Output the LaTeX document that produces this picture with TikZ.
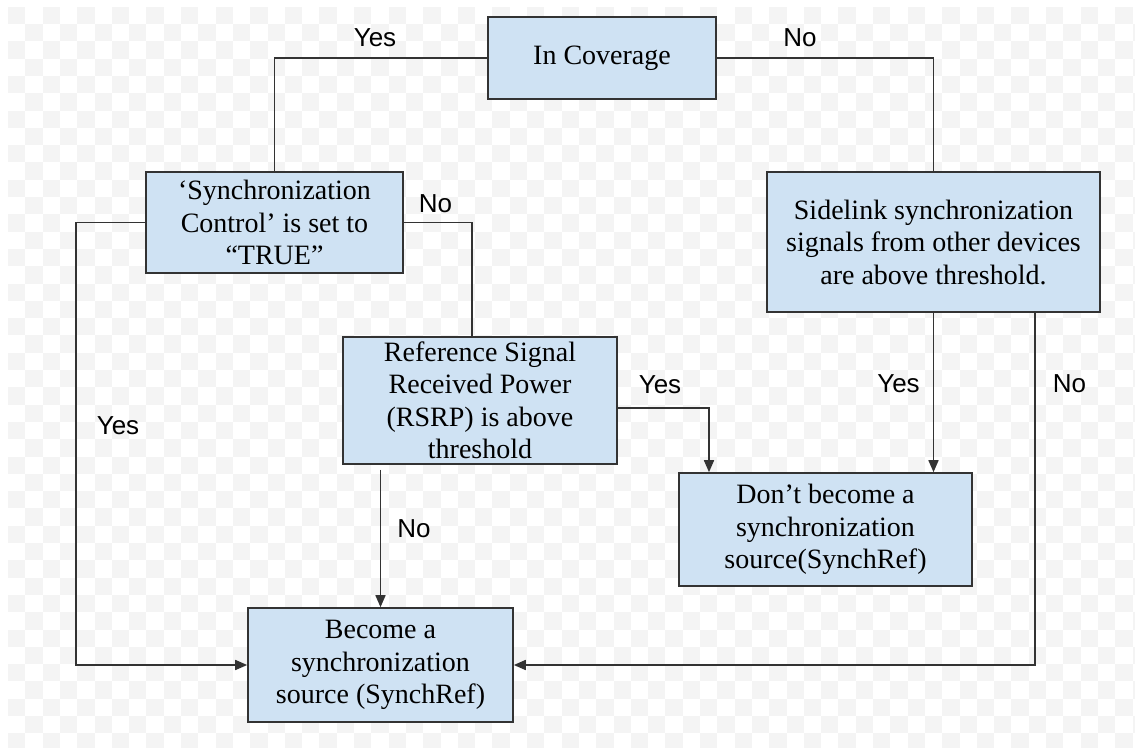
\documentclass[tikz,border=0pt]{standalone}
\usepackage{fontspec}
\setmainfont{Liberation Serif}
\newfontfamily\labelfont{Liberation Sans}
\usetikzlibrary{arrows.meta}
\definecolor{boxfill}{HTML}{CFE2F3}
\definecolor{edge}{HTML}{333333}
\definecolor{checker}{HTML}{F4F4F4}
\tikzset{
  flowbox/.style={draw=edge, line width=1.6pt, fill=boxfill, align=center,
    inner sep=0pt, font=\fontsize{28}{32.5}\selectfont, text=black},
  link/.style={draw=edge, line width=1.6pt},
  arrowlink/.style={link, -{Triangle[length=12pt,width=10pt]}},
  answer/.style={font=\labelfont\fontsize{26}{30}\selectfont, text=black, inner sep=0pt},
}
\begin{document}
\begin{tikzpicture}[x=1pt,y=-1pt]
\useasboundingbox (0,0) rectangle (1135,747);
\fill[white] (0,0) rectangle (1135,747);
% checkered backdrop
\begin{scope}
  \clip (8,6.7) rectangle (1135,747);
  \foreach \j in {0,...,43} {
    \pgfmathtruncatemacro\off{mod(\j,2)}
    \foreach \i in {0,2,...,66} {
      \fill[checker] ({8+17.3*(\i+\off)},{6.7+17.3*\j}) rectangle ++(17.3,17.3);
    }
  }
\end{scope}

% decision and outcome boxes
\node[flowbox, minimum width=228pt, minimum height=82pt] (cov) at (602,58) {In Coverage};
\node[flowbox, minimum width=257pt, minimum height=101pt] (sync) at (274.5,222.5)
  {‘Synchronization\\Control’ is set to\\“TRUE”};
\node[flowbox, minimum width=333pt, minimum height=140pt] (side) at (933.5,242)
  {Sidelink synchronization\\signals from other devices\\are above threshold.};
\node[flowbox, minimum width=274pt, minimum height=127pt] (rsrp) at (480,400.5)
  {Reference Signal\\Received Power\\(RSRP) is above\\threshold};
\node[flowbox, minimum width=293pt, minimum height=113pt] (dont) at (825.5,529.5)
  {Don’t become a\\synchronization\\source(SynchRef)};
\node[flowbox, minimum width=265pt, minimum height=114pt] (become) at (380.5,665)
  {Become a\\synchronization\\source (SynchRef)};

% connectors
\draw[link] (cov.west) -| (sync.north);
\draw[link] (cov.east) -| (side.north);
\draw[arrowlink] (sync.west) -- ++(-69,0) |- (become.west);
\draw[link] (sync.east) -| ([xshift=-8pt]rsrp.north);
\draw[arrowlink] ([yshift=-7.5pt]rsrp.east) -| ([xshift=-116.5pt]dont.north);
\draw[arrowlink] (become.north |- rsrp.south) ++(0,5) -- (become.north);
\draw[arrowlink] (side.south) -- (side.south |- dont.north);
\draw[arrowlink] ([xshift=101.5pt]side.south) |- (become.east);

% branch labels
\node[answer] (l1) at (375,37.5) {Yes};
\node[answer] (l2) at (800,38) {No};
\node[answer] (l3) at (435.5,204) {No};
\node[answer] (l4) at (118,426) {Yes};
\node[answer] (l5) at (660,385) {Yes};
\node[answer] (l6) at (414,529) {No};
\node[answer] (l7) at (898.5,384) {Yes};
\node[answer] (l8) at (1069.5,384) {No};
\end{tikzpicture}
\end{document}
